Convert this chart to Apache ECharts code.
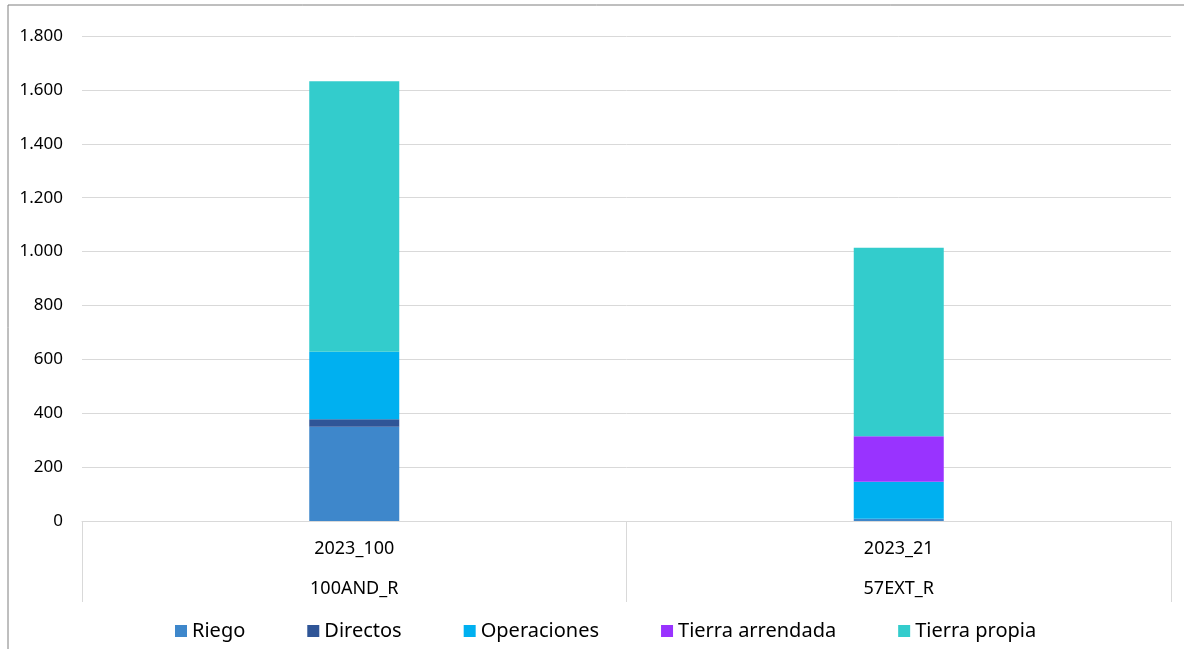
<!DOCTYPE html>
<html style="height: 100%">
<head>
    <meta charset="utf-8">
</head>
<body style="height: 100%; margin: 0">
<div id="container" style="width: 1184px; height: 649px"></div>
<script type="text/javascript" src="https://cdn.jsdelivr.net/npm/echarts@6/dist/echarts.min.js"></script>
<script type="text/javascript">
    // categories: [year code, farm code]
    var years = ['2023_100', '2023_21'];
    var farms = ['100AND_R', '57EXT_R'];

    var riego = [350, 8];
    var directos = [28, 0];
    var operaciones = [250, 138];
    var tierraArrendada = [0, 169];
    var tierraPropia = [1004, 699];

    var yTicks = { min: 0, max: 1800, interval: 200 };

    var dom = document.getElementById('container');
    var myChart = echarts.init(dom);

    function miles(v) {
        return String(v).replace(/\B(?=(\d{3})+(?!\d))/g, '.');
    }

    var cats = years.map(function (y, i) { return y + '\n' + farms[i]; });

    function serie(name, data, color) {
        return {
            name: name,
            type: 'bar',
            stack: 'total',
            barWidth: 90,
            data: data,
            itemStyle: { color: color }
        };
    }

    var option = {
        backgroundColor: '#fff',
        textStyle: { fontFamily: 'Noto Sans' },
        graphic: [{
            type: 'rect',
            shape: { x: 8, y: 5, width: 1300, height: 700 },
            style: { fill: 'none', stroke: '#7f7f7f', lineWidth: 1 },
            silent: true
        }],
        grid: { left: 82, right: 13, top: 36, bottom: 128 },
        legend: {
            bottom: 3,
            left: 170,
            itemWidth: 12,
            itemHeight: 12,
            itemGap: 62,
            icon: 'rect',
            textStyle: { fontSize: 20, color: '#000', fontFamily: 'Noto Sans' },
            data: ['Riego', 'Directos', 'Operaciones', 'Tierra arrendada', 'Tierra propia']
        },
        xAxis: {
            type: 'category',
            data: cats,
            axisLine: { lineStyle: { color: '#d9d9d9' } },
            axisTick: { show: true, length: 81, alignWithLabel: false, lineStyle: { color: '#d9d9d9' } },
            axisLabel: {
                margin: 8,
                fontSize: 18,
                lineHeight: 40,
                color: '#000'
            }
        },
        yAxis: {
            type: 'value',
            min: yTicks.min,
            max: yTicks.max,
            interval: yTicks.interval,
            axisLine: { show: false },
            axisTick: { show: false },
            splitLine: { lineStyle: { color: '#d9d9d9' } },
            axisLabel: { fontSize: 17, color: '#000', margin: 19, formatter: miles }
        },
        series: [
            serie('Riego', riego, '#3e87cb'),
            serie('Directos', directos, '#2f5597'),
            serie('Operaciones', operaciones, '#00b0f0'),
            serie('Tierra arrendada', tierraArrendada, '#9933ff'),
            serie('Tierra propia', tierraPropia, '#33cccc')
        ]
    };
    myChart.setOption(option, true);
</script>
</body>
</html>
